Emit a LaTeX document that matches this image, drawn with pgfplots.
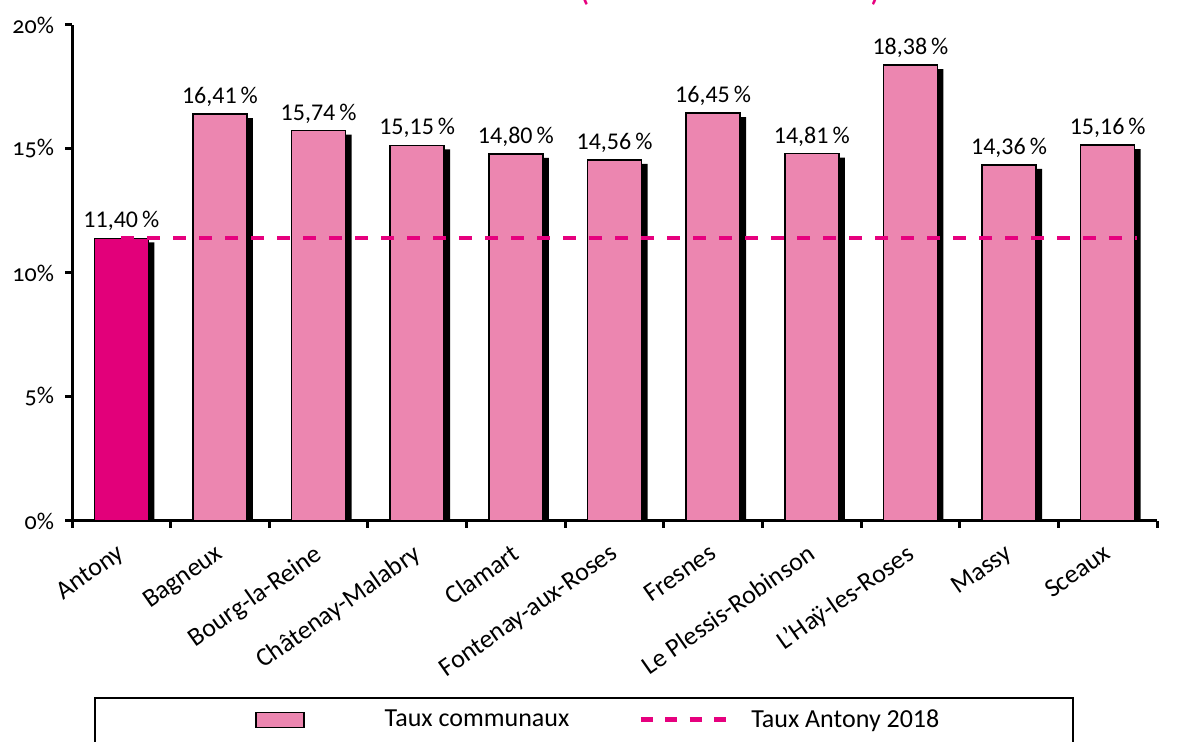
\documentclass[border=0pt]{standalone}
\usepackage{pgfplots}
\pgfplotsset{compat=1.18}
\usepackage{fontspec}
\setmainfont{Carlito}
\newfontfamily\oldnum{Carlito}[Numbers=OldStyle]

\definecolor{barpink}{RGB}{236,134,176}
\definecolor{antony}{RGB}{226,0,122}
\definecolor{linepink}{RGB}{230,0,126}

\pgfplotsset{
  lbl/.style={
    nodes near coords={\pgfmathprintnumber[fixed,fixed zerofill,precision=2,use comma]{\pgfplotspointmeta}\,\%},
    every node near coord/.append style={font=\fontsize{12}{14}\selectfont, black},
  },
  barlegend/.style={legend image code/.code={\draw[fill=barpink, draw=black, line width=0.75pt] (0pt,-3.75pt) rectangle (24pt,3.75pt);}},
  dashlegend/.style={legend image code/.code={\draw[linepink, line width=2.5pt, dash pattern=on 6.1pt off 6.1pt] (0pt,0pt) -- (42.5pt,0pt);}},
}

\begin{document}
\begin{tikzpicture}
\begin{axis}[
    scale only axis,
    width=542.5pt, height=248pt,
    xmin=-0.5, xmax=10.5,
    ymin=0, ymax=20,
    axis lines=left,
    axis line style={line width=1.5pt, -},
    /pgf/number format/assume math mode=true,
    ytick={0,5,10,15,20},
    yticklabel={\oldnum\pgfmathprintnumber{\tick}\%},
    y tick label style={font=\fontsize{12}{14}\selectfont, xshift=-2pt},
    tick align=outside,
    major tick length=3.5pt,
    tick style={black, line width=1.5pt},
    xtick={-0.5,0.5,...,10.5},
    xticklabels={},
    extra x ticks={0,1,...,10},
    extra x tick labels={Antony,Bagneux,Bourg-la-Reine,Châtenay-Malabry,Clamart,Fontenay-aux-Roses,Fresnes,Le Plessis-Robinson,L'Haÿ-les-Roses,Massy,Sceaux},
    extra x tick style={major tick length=0pt,
        tick label style={rotate=35, anchor=north east, font=\fontsize{13}{15}\selectfont, xshift=-5pt, yshift=-4pt}},
    legend columns=2,
    legend style={draw=none, fill=none, font=\fontsize{13}{15}\selectfont,
        at={(0.486,-0.401)}, anchor=center,
        /tikz/column 1/.style={column sep=38pt},
        /tikz/column 2/.style={column sep=32.5pt},
        /tikz/column 3/.style={column sep=9.5pt}},
]
\coordinate (O) at (rel axis cs:0,0);

% shadows
\addplot[ybar, bar width=27pt, bar shift=3pt, fill=black, draw=none, yshift=-2pt, forget plot]
    coordinates {
(0,11.40) (1,16.41) (2,15.74) (3,15.15) (4,14.80) (5,14.56)
(6,16.45) (7,14.81) (8,18.38) (9,14.36) (10,15.16)
    };

\addplot[ybar, bar width=27pt, bar shift=0pt, fill=antony, draw=black, line width=0.75pt, lbl, forget plot]
    coordinates {(0,11.40)};

\addplot[ybar, bar width=27pt, bar shift=0pt, fill=barpink, draw=black, line width=0.75pt, lbl, barlegend]
    coordinates {
(1,16.41) (2,15.74) (3,15.15) (4,14.80) (5,14.56)
(6,16.45) (7,14.81) (8,18.38) (9,14.36) (10,15.16)
    };
\addlegendentry{Taux communaux}

\addplot[linepink, line width=2pt, dash pattern=on 6.5pt off 6.5pt, dashlegend]
    coordinates {(0,11.40) (10.3,11.40)};
\addlegendentry{Taux Antony 2018}
\end{axis}

\draw[line width=0.75pt] ([shift={(11.5pt,-88.5pt)}]O) rectangle ([shift={(500.5pt,-125pt)}]O);
\node[anchor=base, text=linepink, font=\fontsize{13}{15}\selectfont\bfseries] at ([shift={(256.5pt,259.5pt)}]O) {(};
\node[anchor=base, text=linepink, font=\fontsize{13}{15}\selectfont\bfseries] at ([shift={(401.5pt,259.5pt)}]O) {)};

\pgfresetboundingbox
\path[use as bounding box] ([shift={(-36pt,-110.5pt)}]O) rectangle ([shift={(553pt,260.5pt)}]O);
\end{tikzpicture}
\end{document}
